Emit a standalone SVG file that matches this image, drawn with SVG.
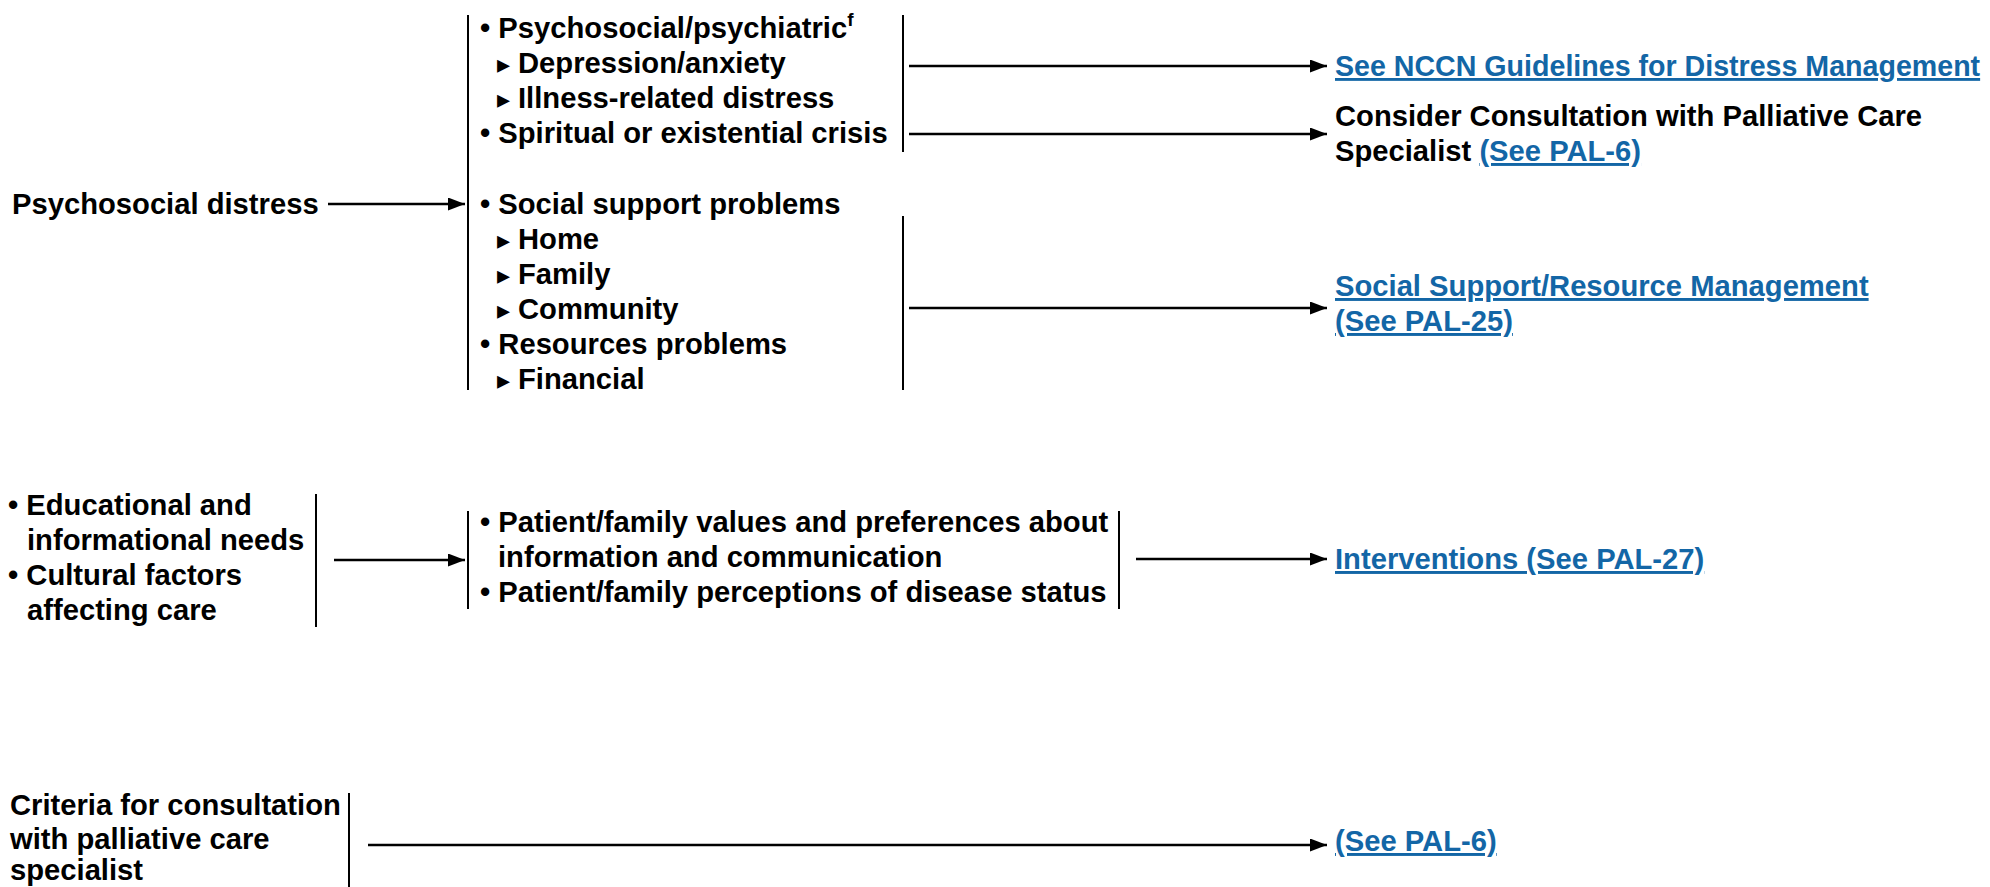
<svg xmlns="http://www.w3.org/2000/svg" width="1990" height="887" viewBox="0 0 1990 887">
<style>
text{font-family:"Liberation Sans",Arial,sans-serif;font-weight:bold;font-size:29.2px;fill:#000}
.lnk{fill:#1366a6;text-decoration:underline}
.tri{font-family:"DejaVu Sans",sans-serif;font-size:26px;font-weight:normal}
.sup{font-size:19px}
.br{stroke:#000;stroke-width:2;fill:none}
.ar{stroke:#000;stroke-width:2.6;fill:none;marker-end:url(#ah)}
</style>
<defs>
<marker id="ah" markerUnits="userSpaceOnUse" markerWidth="18" markerHeight="13" refX="17" refY="6.5" orient="auto">
<path d="M0,0 L17,6.5 L0,13 z" fill="#000"/>
</marker>
</defs>
<rect width="1990" height="887" fill="#fff"/>
<g id="connectors">
<line class="ar" x1="328" y1="204" x2="465" y2="204"/>
<line class="ar" x1="909" y1="66" x2="1327" y2="66"/>
<line class="ar" x1="909" y1="134" x2="1327" y2="134"/>
<line class="ar" x1="909" y1="308" x2="1327" y2="308"/>
<line class="ar" x1="334" y1="560" x2="465" y2="560"/>
<line class="ar" x1="1136" y1="559" x2="1327" y2="559"/>
<line class="ar" x1="368" y1="845" x2="1327" y2="845"/>
</g>
<g id="node-psychosocial-distress">
<text x="12" y="214">Psychosocial distress</text>
</g>
<g id="node-distress-list">
<line class="br" x1="468" y1="15" x2="468" y2="390"/>
<text x="480" y="38">• Psychosocial/psychiatric<tspan class="sup" dy="-12">f</tspan></text>
<text class="tri" x="497" y="73">▸</text><text x="518" y="73">Depression/anxiety</text>
<text class="tri" x="497" y="108">▸</text><text x="518" y="108">Illness-related distress</text>
<text x="480" y="143">• Spiritual or existential crisis</text>
<text x="480" y="214">• Social support problems</text>
<text class="tri" x="497" y="249">▸</text><text x="518" y="249">Home</text>
<text class="tri" x="497" y="284">▸</text><text x="518" y="284">Family</text>
<text class="tri" x="497" y="319">▸</text><text x="518" y="319">Community</text>
<text x="480" y="354">• Resources problems</text>
<text class="tri" x="497" y="389">▸</text><text x="518" y="389">Financial</text>
<line class="br" x1="903" y1="15" x2="903" y2="152"/>
<line class="br" x1="903" y1="216" x2="903" y2="390"/>
</g>
<g id="node-distress-management">
<text class="lnk" x="1335" y="76" style="font-size:28.6px">See NCCN Guidelines for Distress Management</text>
</g>
<g id="node-palliative-consult">
<text x="1335" y="126">Consider Consultation with Palliative Care</text>
<text x="1335" y="161">Specialist <tspan class="lnk">(See PAL-6)</tspan></text>
</g>
<g id="node-social-support">
<text class="lnk" x="1335" y="296">Social Support/Resource Management</text>
<text class="lnk" x="1335" y="331">(See PAL-25)</text>
</g>
<g id="node-educational">
<text x="8" y="515">• Educational and</text>
<text x="27" y="550">informational needs</text>
<text x="8" y="585">• Cultural factors</text>
<text x="27" y="620">affecting care</text>
<line class="br" x1="316" y1="494" x2="316" y2="627"/>
</g>
<g id="node-patient-family">
<line class="br" x1="468" y1="511" x2="468" y2="609"/>
<text x="480" y="532">• Patient/family values and preferences about</text>
<text x="498" y="567">information and communication</text>
<text x="480" y="602">• Patient/family perceptions of disease status</text>
<line class="br" x1="1119" y1="511" x2="1119" y2="609"/>
</g>
<g id="node-interventions">
<text class="lnk" x="1335" y="569">Interventions (See PAL-27)</text>
</g>
<g id="node-criteria">
<text x="10" y="815">Criteria for consultation</text>
<text x="10" y="849">with palliative care</text>
<text x="10" y="880">specialist</text>
<line class="br" x1="349" y1="793" x2="349" y2="887"/>
</g>
<g id="node-see-pal6">
<text class="lnk" x="1335" y="851">(See PAL-6)</text>
</g>
</svg>
